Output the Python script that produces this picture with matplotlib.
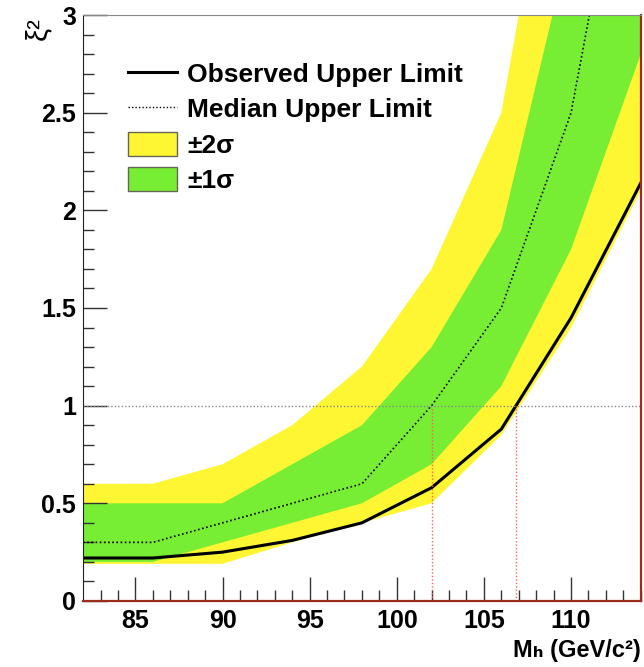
import numpy as np
import matplotlib.pyplot as plt
from matplotlib.lines import Line2D
from matplotlib.patches import Patch

plt.rcParams['font.family'] = ['Liberation Sans', 'DejaVu Sans']

# mass points (GeV/c^2)
mass = [82, 86, 90, 94, 98, 102, 106, 110, 114]

# limits on xi^2
observed = [0.22, 0.22, 0.25, 0.31, 0.40, 0.58, 0.88, 1.45, 2.14]
median = [0.30, 0.30, 0.40, 0.50, 0.60, 1.00, 1.50, 2.50, 4.40]
band1_lo = [0.20, 0.20, 0.30, 0.40, 0.50, 0.70, 1.10, 1.80, 2.80]
band1_hi = [0.50, 0.50, 0.50, 0.70, 0.90, 1.30, 1.90, 3.40, 4.60]
band2_lo = [0.19, 0.19, 0.19, 0.30, 0.40, 0.50, 0.85, 1.40, 2.10]
band2_hi = [0.60, 0.60, 0.70, 0.90, 1.20, 1.70, 2.50, 4.50, 5.50]

yellow = '#fff633'
green = '#77ee33'
red_frame = '#9b2c1c'

fig = plt.figure(figsize=(6.44, 6.67), dpi=100)
ax = fig.add_axes([0.129, 0.099, 0.866, 0.8785])

ax.fill_between(mass, band2_lo, band2_hi, color=yellow, lw=0)
ax.fill_between(mass, band1_lo, band1_hi, color=green, lw=0)
ax.plot(mass, median, color='black', ls=(0, (1, 1.5)), lw=1.2)
ax.plot(mass, observed, color='black', lw=2.2)

# crossings with xi^2 = 1
x_med = np.interp(1.0, median, mass)
x_obs = np.interp(1.0, observed, mass)
ax.axhline(1.0, color='#888888', ls=(0, (1, 1.5)), lw=1)
for xc in (x_med, x_obs):
    ax.plot([xc, xc], [0, 1], color='#ff6060', ls=(0, (1, 1.5)), lw=1)

ax.set_xlim(82, 114)
ax.set_ylim(0, 3)
ax.set_xticks([85, 90, 95, 100, 105, 110])
ax.set_xticks(np.arange(83, 115, 1), minor=True)
ax.set_yticks([0, 0.5, 1, 1.5, 2, 2.5, 3])
ax.set_yticklabels(['0', '0.5', '1', '1.5', '2', '2.5', '3'])
ax.set_yticks(np.arange(0, 3.01, 0.1), minor=True)
ax.tick_params(which='both', direction='in', top=False, right=False,
               labelsize=18, color='#333333')
ax.tick_params(which='major', length=17, width=1)
ax.tick_params(which='minor', length=8, width=1)
ax.tick_params(axis='x', pad=6)
ax.tick_params(axis='y', pad=5)
for lab in ax.get_xticklabels() + ax.get_yticklabels():
    lab.set_fontweight('bold')

ax.spines['top'].set_color('#888888')
ax.spines['left'].set_color('#222222')
ax.spines['bottom'].set_color(red_frame)
ax.spines['right'].set_color(red_frame)
ax.spines['bottom'].set_linewidth(1.6)
ax.spines['right'].set_linewidth(1.6)

ax.text(1.0, -0.095, 'Mₕ (GeV/c²)',
        transform=ax.transAxes, ha='right', va='baseline',
        fontsize=17, fontweight='bold')
ax.text(-0.056, 0.997, 'ξ²', transform=ax.transAxes, rotation=90,
        ha='right', va='top', fontsize=21)

handles = [
    Line2D([], [], color='black', lw=2.2),
    Line2D([], [], color='black', ls=(0, (1, 1.5)), lw=1),
    Patch(facecolor=yellow, edgecolor='#666655', lw=1),
    Patch(facecolor=green, edgecolor='#666655', lw=1),
]
labels = ['Observed Upper Limit', 'Median Upper Limit', '±2σ', '±1σ']
leg = ax.legend(handles, labels, loc='upper left', bbox_to_anchor=(0.081, 0.921),
                frameon=False, fontsize=19, handlelength=1.86, handleheight=1.0,
                handletextpad=0.38, labelspacing=0.36, borderpad=0, borderaxespad=0)
for t in leg.get_texts():
    t.set_fontweight('bold')

fig.savefig('out.png', dpi=100)
